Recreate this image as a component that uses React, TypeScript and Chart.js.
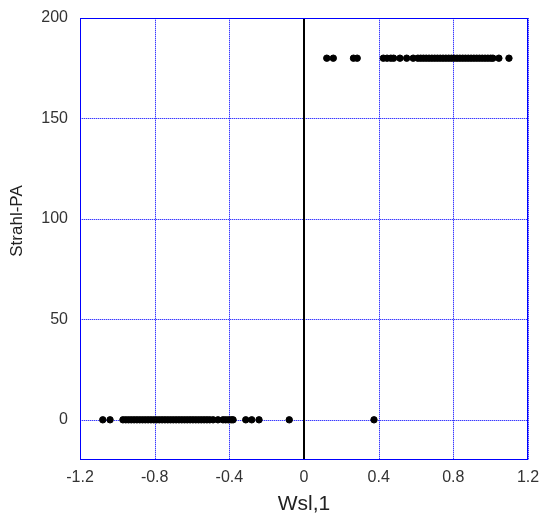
import React, { useEffect, useRef } from "react";
import { Chart, registerables } from "chart.js";

Chart.register(...registerables);

// Points at Strahl-PA = 0
const wslAtZero: number[] = [
  -1.078, -1.039,
  -0.97, -0.955, -0.94, -0.925, -0.91, -0.895, -0.88, -0.865, -0.85, -0.835, -0.82, -0.805,
  -0.79, -0.775, -0.76, -0.745, -0.73, -0.715, -0.70, -0.685, -0.67, -0.655, -0.64, -0.625,
  -0.61, -0.595, -0.58, -0.565, -0.55, -0.535, -0.52, -0.505,
  -0.487, -0.461, -0.434, -0.42, -0.405, -0.39, -0.38,
  -0.312, -0.28, -0.241, -0.079, 0.375,
];
// Points at Strahl-PA = 180
const wslAt180: number[] = [
  0.122, 0.157, 0.265, 0.285,
  0.425, 0.445, 0.465, 0.48, 0.514, 0.55, 0.585,
  0.61, 0.625, 0.64, 0.655, 0.67, 0.685, 0.70, 0.715, 0.73, 0.745, 0.76, 0.775, 0.79, 0.805,
  0.82, 0.835, 0.85, 0.865, 0.88, 0.895, 0.91, 0.925, 0.94, 0.955, 0.97, 0.985, 1.0, 1.012,
  1.044, 1.098,
];
const paLow = 0;
const paHigh = 180;

const xTicks: number[] = [-1.2, -0.8, -0.4, 0, 0.4, 0.8, 1.2];
const xTickLabels: string[] = ["-1.2", "-0.8", "-0.4", "0", "0.4", "0.8", "1.2"];
const yTicks: number[] = [0, 50, 100, 150, 200];
const xMin = -1.2, xMax = 1.2, yMin = -20, yMax = 200;
const zeroLineX = 0;
const xTitle = "Wsl,1";
const yTitle = "Strahl-PA";

const FONT = "'Liberation Sans', Arial, sans-serif";

const framePlugin = {
  id: "frame",
  beforeDatasetsDraw(chart: any) {
    const { ctx, chartArea, scales } = chart;
    const { left, right, top, bottom } = chartArea;
    ctx.save();
    ctx.lineWidth = 1;
    const drawGrid = () => {
      for (const v of xTicks) {
        const px = Math.round(scales.x.getPixelForValue(v)) + 0.5;
        ctx.beginPath();
        ctx.moveTo(px, top);
        ctx.lineTo(px, bottom);
        ctx.stroke();
      }
      for (const v of yTicks) {
        const py = Math.round(scales.y.getPixelForValue(v)) + 0.5;
        ctx.beginPath();
        ctx.moveTo(left, py);
        ctx.lineTo(right, py);
        ctx.stroke();
      }
    };
    // faint solid base then dotted blue
    ctx.strokeStyle = "rgba(90,90,255,0.45)";
    ctx.setLineDash([]);
    drawGrid();
    ctx.strokeStyle = "#3a3aff";
    ctx.setLineDash([1, 1]);
    drawGrid();
    ctx.setLineDash([]);
    // vertical zero line
    const zx = Math.round(scales.x.getPixelForValue(zeroLineX));
    ctx.strokeStyle = "#000";
    ctx.lineWidth = 2;
    ctx.beginPath();
    ctx.moveTo(zx, top);
    ctx.lineTo(zx, bottom);
    ctx.stroke();
    // frame
    ctx.strokeStyle = "#0000ff";
    ctx.lineWidth = 1;
    ctx.strokeRect(Math.round(left) + 0.5, Math.round(top) + 0.5, Math.round(right - left) - 1, Math.round(bottom - top) - 1);
    ctx.restore();
  },
  afterDraw(chart: any) {
    const { ctx, chartArea } = chart;
    ctx.save();
    ctx.fillStyle = "#222";
    ctx.font = `17px ${FONT}`;
    ctx.textAlign = "center";
    ctx.textBaseline = "middle";
    ctx.translate(17, (chartArea.top + chartArea.bottom) / 2 - 18);
    ctx.rotate(-Math.PI / 2);
    ctx.fillText(yTitle, 0, 0);
    ctx.restore();
  },
};

export default function App() {
  const ref = useRef<HTMLCanvasElement>(null);
  useEffect(() => {
    if (!ref.current) return;
    const data = [
      ...wslAtZero.map((x) => ({ x, y: paLow })),
      ...wslAt180.map((x) => ({ x, y: paHigh })),
    ];
    const chart = new Chart(ref.current, {
      type: "scatter",
      data: {
        datasets: [
          {
            data,
            backgroundColor: "#000",
            borderColor: "#000",
            pointRadius: 3.2,
            pointHoverRadius: 3.2,
          },
        ],
      },
      options: {
        animation: false,
        responsive: true,
        maintainAspectRatio: false,
        layout: { padding: { top: 18, right: 11, left: 0, bottom: 0 } },
        plugins: { legend: { display: false }, tooltip: { enabled: false } },
        scales: {
          x: {
            type: "linear",
            min: xMin,
            max: xMax,
            afterBuildTicks: (s: any) => {
              s.ticks = xTicks.map((v) => ({ value: v }));
            },
            afterFit: (s: any) => {
              s.height = 57;
              s.paddingLeft = 0;
              s.paddingRight = 0;
            },
            ticks: {
              autoSkip: false,
              maxRotation: 0,
              padding: 8,
              color: "#333",
              font: { family: FONT, size: 16 },
              callback: (v: any) => {
                const i = xTicks.findIndex((t) => Math.abs(t - v) < 1e-9);
                return i >= 0 ? xTickLabels[i] : "";
              },
            },
            grid: { display: false, drawTicks: false },
            border: { display: false },
            title: {
              display: true,
              text: xTitle,
              color: "#222",
              font: { family: FONT, size: 21 },
              padding: { top: 3, bottom: 0 },
            },
          },
          y: {
            type: "linear",
            min: yMin,
            max: yMax,
            afterBuildTicks: (s: any) => {
              s.ticks = yTicks.map((v) => ({ value: v }));
            },
            afterFit: (s: any) => {
              s.width = 80;
              s.paddingTop = 0;
              s.paddingBottom = 0;
            },
            ticks: {
              autoSkip: false,
              padding: 12,
              color: "#333",
              font: { family: FONT, size: 16 },
              callback: (v: any) => String(v),
            },
            grid: { display: false, drawTicks: false },
            border: { display: false },
            title: { display: false },
          },
        },
      },
      plugins: [framePlugin],
    });
    return () => chart.destroy();
  }, []);
  return (
    <div style={{ position: "absolute", left: 0, top: 0, width: 539, height: 517 }}>
      <canvas ref={ref} />
    </div>
  );
}
